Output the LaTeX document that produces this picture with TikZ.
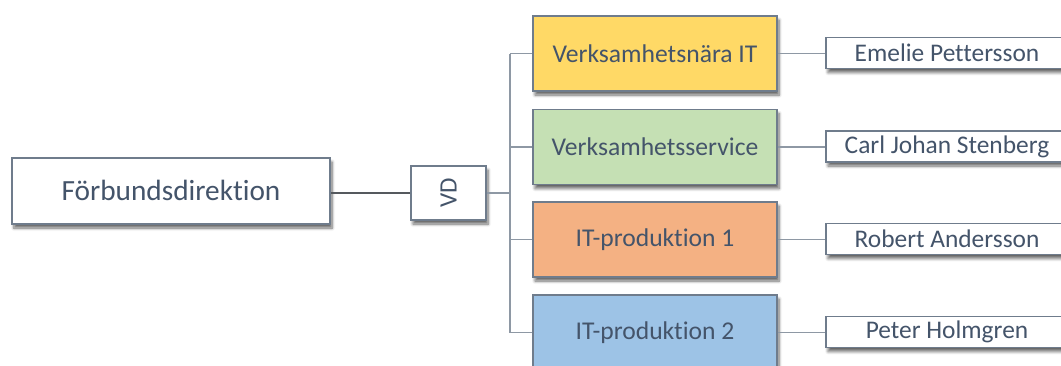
\documentclass[tikz,border=0pt]{standalone}
\usepackage{fontspec}
\setmainfont{Carlito}[Ligatures=NoCommon]
\usepackage{graphicx}
\usetikzlibrary{shadows.blur}

\definecolor{txt}{HTML}{44546A}
\definecolor{edge}{HTML}{6F7C8C}
\definecolor{wire}{HTML}{8E98A4}
\definecolor{wiredark}{HTML}{55595E}
\definecolor{gold}{HTML}{FFD966}
\definecolor{leaf}{HTML}{C5E0B4}
\definecolor{peach}{HTML}{F4B183}
\definecolor{sky}{HTML}{9DC3E6}

\tikzset{
  box/.style={draw=edge, line width=1.2pt, fill=white, inner sep=0pt,
    text=txt, align=center,
    blur shadow={shadow xshift=2pt, shadow yshift=-4pt, shadow opacity=60,
      shadow blur steps=6, shadow blur radius=3pt}},
  unit/.style={box, minimum width=244pt, minimum height=75pt, font=\fontsize{25.6}{30}\selectfont},
  person/.style={box, minimum width=242pt, minimum height=31pt, font=\fontsize{25.4}{30}\selectfont},
  wire/.style={draw=wire, line width=1.5pt},
}

\begin{document}
\begin{tikzpicture}[x=1pt, y=-1pt]
\useasboundingbox (0,0) rectangle (1061,365);

% board and managing director
\node[box, minimum width=318pt, minimum height=66pt, font=\fontsize{29.3}{34}\selectfont]
  (fd) at (171,191) {\raisebox{2pt}{Förbundsdirektion}};
\node[box, minimum width=75pt, minimum height=54pt, font=\fontsize{25}{30}\selectfont]
  (vd) at (448.5,193) {\rotatebox{90}{VD}};

% departments
\node[unit, fill=gold]  (u1) at (655,53.5)  {Verksamhetsnära IT};
\node[unit, fill=leaf]  (u2) at (655,147)   {Verksamhetsservice};
\node[unit, fill=peach] (u3) at (655,239.5) {IT-produktion 1};
\node[unit, fill=sky]   (u4) at (655,332.5) {IT-produktion 2};

% department heads
\node[person] (p1) at (947,53)    {Emelie Pettersson};
\node[person] (p2) at (947,146.5) {Carl Johan Stenberg};
\node[person] (p3) at (947,239)   {Robert Andersson};
\node[person] (p4) at (947,332)   {Peter Holmgren};

% connectors
\coordinate (trunk) at (510,193);
\coordinate (ttop) at (510,53.5);
\coordinate (tbot) at (510,332.5);

\draw[draw=wiredark, line width=1.8pt] (vd.west) -- (vd.west -| fd.east);
\draw[wire] (vd.east) -- (trunk);
\draw[wire] (ttop) -- (tbot);
\draw[wire] (u1.west -| ttop) -- (u1.west);
\draw[wire] (u2.west -| ttop) -- (u2.west);
\draw[wire] (u3.west -| ttop) -- (u3.west);
\draw[wire] (u4.west -| ttop) -- (u4.west);
\draw[wire] (u1.east) -- (u1.east -| p1.west);
\draw[wire] (u2.east) -- (u2.east -| p2.west);
\draw[wire] (u3.east) -- (u3.east -| p3.west);
\draw[wire] (u4.east) -- (u4.east -| p4.west);
\end{tikzpicture}
\end{document}
